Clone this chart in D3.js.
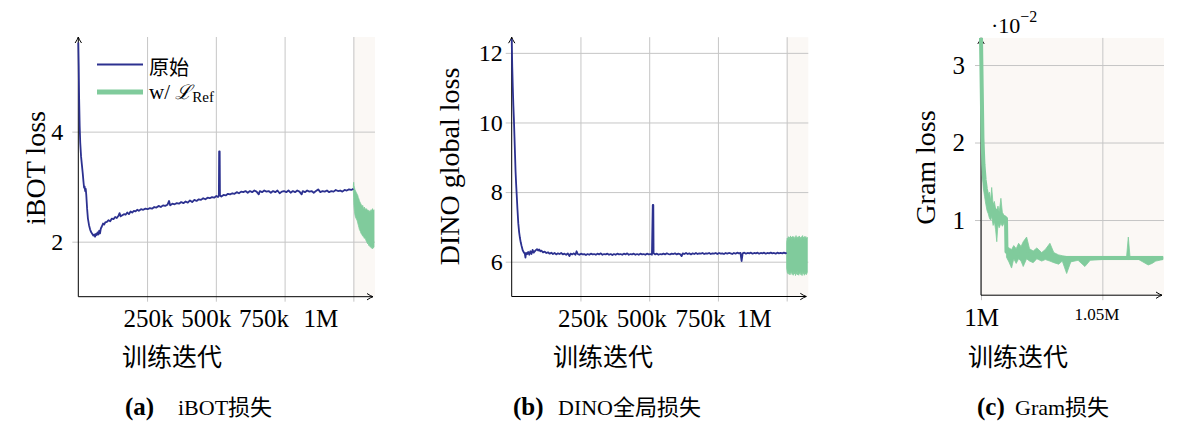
<!DOCTYPE html>
<html><head><meta charset="utf-8">
<script src="https://cdn.jsdelivr.net/npm/d3@7"></script>
<style>body{margin:0;background:#fff} svg{display:block}</style>
</head><body><svg id="c" width="1179" height="425"></svg>
<script>
// ---------- DATA (iterations in thousands) ----------
const ibotOriginal = [[0,5.62],[1.5,5.2],[3,4.6],[5,4.1],[7,3.8],[10,3.55],[13,3.4],[16,3.25],[19,3.08],[21,2.98],[23,3.0],[25,2.92],[27,2.96],[29,2.85],[32,2.6],[35,2.42],[39,2.3],[43,2.22],[47,2.17],[51,2.14],[55,2.11],[58,2.13],[61,2.09],[64,2.14],[67,2.12],[70,2.17],[73,2.13],[76,2.2],[79,2.15],[82,2.24],[86,2.28],[90,2.33],[94,2.31],[98,2.35],[104,2.36],[110,2.39],[116,2.37],[122,2.42],[128,2.41],[134,2.45],[140,2.43],[146,2.47],[150,2.52],[154,2.46],[160,2.48],[166,2.5],[172,2.49],[178,2.53],[184,2.5],[190,2.55],[196,2.53],[202,2.56],[208,2.55],[214,2.58],[220,2.56],[228,2.59],[236,2.58],[244,2.6],[252,2.59],[260,2.61],[268,2.6],[276,2.63],[284,2.62],[292,2.65],[300,2.63],[308,2.66],[316,2.65],[324,2.67],[330,2.74],[334,2.66],[342,2.69],[350,2.68],[358,2.7],[366,2.69],[374,2.72],[382,2.7],[390,2.73],[398,2.71],[406,2.75],[414,2.72],[422,2.76],[430,2.74],[438,2.77],[446,2.76],[454,2.79],[462,2.77],[470,2.8],[478,2.79],[486,2.81],[494,2.8],[502,2.83],[508,2.81],[511,2.84],[512,3.64],[514,3.64],[515,2.84],[520,2.82],[528,2.85],[536,2.84],[544,2.87],[552,2.86],[560,2.88],[568,2.87],[576,2.9],[584,2.88],[592,2.91],[600,2.9],[608,2.92],[616,2.89],[624,2.92],[632,2.9],[640,2.93],[648,2.91],[656,2.86],[660,2.92],[668,2.9],[676,2.93],[684,2.91],[692,2.92],[700,2.89],[708,2.92],[716,2.9],[724,2.93],[732,2.88],[740,2.91],[748,2.92],[756,2.9],[764,2.93],[772,2.89],[780,2.92],[788,2.9],[796,2.93],[804,2.91],[812,2.86],[816,2.92],[824,2.9],[832,2.93],[840,2.91],[848,2.92],[856,2.89],[864,2.92],[872,2.95],[880,2.9],[888,2.92],[896,2.91],[904,2.93],[912,2.9],[920,2.92],[928,2.91],[936,2.94],[944,2.92],[952,2.93],[960,2.91],[968,2.94],[976,2.93],[984,2.95],[992,2.94],[1000,2.96]];

// [iteration, upper, lower]
const ibotRefBand = [[1000,3.02,2.92],[1001,3.08,2.8],[1002,3.02,2.66],[1004,2.98,2.55],[1006,2.94,2.48],[1008,2.92,2.44],[1010,2.9,2.42],[1012,2.88,2.4],[1014,2.86,2.38],[1016,2.84,2.34],[1018,2.8,2.3],[1020,2.78,2.26],[1022,2.74,2.22],[1024,2.72,2.2],[1026,2.7,2.18],[1028,2.68,2.15],[1030,2.66,2.14],[1032,2.64,2.12],[1034,2.66,2.1],[1036,2.62,2.11],[1038,2.6,2.08],[1040,2.63,2.06],[1042,2.59,2.07],[1044,2.6,2.05],[1046,2.57,2.02],[1048,2.6,2.0],[1050,2.56,1.98],[1052,2.58,1.96],[1054,2.55,1.97],[1056,2.57,1.93],[1058,2.53,1.95],[1060,2.56,1.91],[1062,2.54,1.9],[1064,2.58,1.92],[1066,2.55,1.88],[1068,2.59,1.9],[1070,2.6,1.87],[1072,2.56,1.89],[1075,2.58,1.9]];

const dinoOriginal = [[0,12.4],[2,11.6],[4,11.0],[6,10.5],[8,10.1],[10,9.6],[12,9.1],[14,8.6],[16,8.25],[18,7.95],[21,7.5],[24,7.1],[27,6.85],[30,6.68],[33,6.55],[36,6.45],[40,6.33],[44,6.27],[48,6.22],[50,6.12],[52,6.25],[56,6.22],[60,6.28],[64,6.2],[68,6.3],[72,6.22],[76,6.34],[80,6.26],[84,6.3],[88,6.33],[92,6.36],[96,6.32],[100,6.35],[104,6.3],[108,6.32],[114,6.27],[120,6.29],[126,6.25],[132,6.27],[138,6.23],[144,6.26],[150,6.22],[156,6.25],[162,6.21],[168,6.24],[174,6.22],[180,6.25],[186,6.21],[192,6.23],[198,6.2],[204,6.24],[210,6.16],[214,6.23],[220,6.21],[226,6.24],[232,6.2],[236,6.3],[240,6.22],[246,6.2],[252,6.23],[258,6.21],[264,6.22],[270,6.19],[276,6.22],[282,6.2],[288,6.23],[294,6.21],[300,6.22],[306,6.2],[312,6.23],[318,6.21],[324,6.24],[330,6.2],[336,6.22],[342,6.21],[348,6.23],[354,6.2],[360,6.22],[366,6.19],[372,6.22],[378,6.2],[384,6.23],[390,6.21],[396,6.22],[402,6.2],[408,6.23],[414,6.21],[420,6.24],[426,6.2],[432,6.22],[438,6.21],[444,6.23],[450,6.2],[456,6.22],[462,6.2],[468,6.23],[474,6.21],[480,6.22],[486,6.2],[492,6.23],[498,6.21],[504,6.22],[510,6.2],[513,7.63],[515,7.63],[516,6.24],[522,6.21],[528,6.23],[534,6.2],[540,6.22],[546,6.21],[552,6.23],[558,6.21],[564,6.24],[570,6.22],[576,6.21],[582,6.23],[588,6.22],[594,6.24],[600,6.21],[606,6.23],[612,6.22],[618,6.16],[622,6.24],[628,6.22],[634,6.25],[640,6.22],[646,6.24],[652,6.21],[658,6.24],[664,6.22],[670,6.25],[676,6.22],[682,6.24],[688,6.23],[694,6.25],[700,6.22],[706,6.24],[712,6.23],[718,6.25],[724,6.22],[730,6.24],[736,6.23],[742,6.25],[748,6.22],[754,6.25],[760,6.23],[766,6.24],[772,6.22],[778,6.25],[784,6.23],[790,6.25],[796,6.24],[802,6.22],[808,6.25],[814,6.23],[820,6.26],[826,6.24],[832,6.25],[836,6.02],[840,6.24],[846,6.26],[852,6.23],[858,6.25],[864,6.24],[870,6.26],[876,6.23],[882,6.25],[888,6.24],[894,6.26],[900,6.23],[906,6.25],[912,6.24],[918,6.26],[924,6.23],[930,6.25],[936,6.24],[942,6.26],[948,6.24],[954,6.25],[960,6.23],[966,6.26],[972,6.24],[978,6.25],[984,6.24],[990,6.26],[996,6.24],[1000,6.26]];

const dinoRefBand = [[1000,6.56,5.82],[1002,6.68,5.7],[1004,6.64,5.66],[1006,6.72,5.74],[1008,6.63,5.64],[1010,6.7,5.71],[1012,6.67,5.62],[1014,6.74,5.72],[1016,6.64,5.66],[1018,6.71,5.74],[1020,6.66,5.63],[1022,6.73,5.7],[1024,6.65,5.61],[1026,6.72,5.72],[1028,6.63,5.65],[1030,6.7,5.69],[1032,6.67,5.6],[1034,6.75,5.71],[1036,6.65,5.64],[1038,6.71,5.73],[1040,6.64,5.62],[1042,6.72,5.7],[1044,6.66,5.61],[1046,6.74,5.71],[1048,6.65,5.65],[1050,6.7,5.72],[1052,6.63,5.62],[1054,6.72,5.69],[1056,6.67,5.6],[1058,6.75,5.72],[1060,6.65,5.65],[1062,6.71,5.7],[1064,6.64,5.61],[1066,6.73,5.71],[1068,6.66,5.64],[1070,6.72,5.69],[1072,6.65,5.63],[1075,6.7,5.7]];

const gramRef = [[1000,3.35],[1000.3,2.7],[1000.6,2.05],[1001,1.72],[1001.5,1.52],[1002,1.4],[1002.5,1.32],[1003,1.27],[1004,1.21],[1005,1.15],[1006,1.12],[1007,1.09],[1008,1.06],[1009,1.04],[1010.3,1.02],[1010.5,0.59],[1012,0.58],[1014,0.57],[1016,0.56],[1018,0.56],[1020,0.55],[1022,0.54],[1024,0.54],[1026,0.53],[1028,0.53],[1030,0.52],[1032,0.51],[1075,0.51]];

const gramRefBand = [[1000.5,2.3,1.6],[1001,1.75,1.4],[1001.5,1.55,1.3],[1002,1.45,1.2],[1002.5,1.38,1.12],[1003,1.32,1.08],[1003.5,1.36,1.02],[1004,1.25,1.0],[1004.4,1.42,1.05],[1005,1.2,0.93],[1005.5,1.24,0.98],[1006,1.15,0.88],[1006.5,1.12,0.72],[1007,1.18,0.95],[1007.5,1.1,0.9],[1008.2,1.28,0.96],[1008.8,1.1,0.92],[1009.5,1.06,0.96],[1010.3,1.05,0.98],[1010.5,0.66,0.52],[1011.5,0.64,0.46],[1012.6,0.62,0.38],[1013.5,0.67,0.5],[1014.5,0.63,0.44],[1015.5,0.7,0.5],[1016.5,0.66,0.47],[1017.4,0.72,0.4],[1018.8,0.78,0.5],[1020,0.63,0.47],[1021.5,0.6,0.45],[1023,0.64,0.5],[1025,0.58,0.47],[1026.5,0.62,0.49],[1028.4,0.7,0.47],[1030,0.58,0.45],[1032,0.55,0.43],[1033.5,0.54,0.47],[1035.3,0.53,0.31],[1037,0.53,0.46],[1040,0.53,0.48],[1042.8,0.53,0.4],[1045,0.53,0.48],[1050,0.53,0.49],[1055,0.53,0.49],[1060,0.53,0.49],[1060.7,0.78,0.49],[1061.4,0.53,0.49],[1065,0.53,0.49],[1068.9,0.53,0.42],[1070.5,0.53,0.44],[1072,0.53,0.47],[1075,0.53,0.49]];

const mainXTicks = [250, 500, 750, 1000];
const mainXTickLabels = ['250k', '500k', '750k', '1M'];
const gramXTicks = [1000, 1050];
const gramXTickLabels = ['1M', '1.05M'];
const ibotYTicks = [2, 4];
const dinoYTicks = [6, 8, 10, 12];
const gramYTicks = [1, 2, 3];
const legendLabels = ['原始', 'w/ '];
const xAxisTitle = '训练迭代';

// ---------- STYLE ----------
const BLUE = '#2c3190', GREEN = '#80cb9c', SHADE = '#fbf8f5', GRID = '#c6c6c6';
const SERIF = '"Liberation Serif", "DejaVu Serif", serif';
const CJK = '"Noto Sans CJK SC", sans-serif';
const MIX = '"Liberation Serif", "Noto Sans CJK SC", serif';

const svg = d3.select('#c');
svg.append('rect').attr('width', 1179).attr('height', 425).attr('fill', '#fff');
const defs = svg.append('defs');
defs.append('marker').attr('id', 'arr').attr('viewBox', '-8 -5 10 10')
  .attr('refX', 0).attr('refY', 0).attr('markerWidth', 10).attr('markerHeight', 10)
  .attr('markerUnits', 'userSpaceOnUse').attr('orient', 'auto')
  .append('path').attr('d', 'M-6,-3.2 Q-2.5,-0.8 0,0 Q-2.5,0.8 -6,3.2')
  .attr('fill', 'none').attr('stroke', '#000').attr('stroke-width', 1);

function drawPanel(p) {
  const x = d3.scaleLinear().domain(p.xDomain).range(p.xRange);
  const y = d3.scaleLinear().domain(p.yDomain).range(p.yRange);
  const [L, R] = p.xRange, [B, T] = p.yRange;
  const g = svg.append('g');

  g.append('rect').attr('x', x(p.shadeFrom)).attr('y', T)
    .attr('width', R + 1 - x(p.shadeFrom)).attr('height', B - T).attr('fill', SHADE);

  // grid
  const gx = g.append('g').attr('transform', `translate(0,${B})`)
    .call(d3.axisBottom(x).tickValues(p.xTicks).tickSize(-(B - T)).tickFormat(''));
  gx.select('.domain').remove();
  gx.selectAll('line').attr('stroke', GRID).attr('stroke-width', 1);
  const gy = g.append('g').attr('transform', `translate(${L},0)`)
    .call(d3.axisLeft(y).tickValues(p.yTicks).tickSize(-(R + 1 - L)).tickFormat(''));
  gy.select('.domain').remove();
  gy.selectAll('line').attr('stroke', GRID).attr('stroke-width', 1);

  // ticks + labels
  const xa = g.append('g').attr('transform', `translate(0,${B})`)
    .call(d3.axisBottom(x).tickValues(p.xTicks).tickSize(5).tickPadding(8)
      .tickFormat((d, i) => p.xLabels[i]));
  xa.select('.domain').remove();
  xa.selectAll('line').attr('stroke', GRID);
  xa.selectAll('text').attr('dx', (d, i) => p.xLabelDx[i])
    .attr('font-family', SERIF).attr('font-size', (d, i) => p.xLabelSize[i]).attr('fill', '#000');

  const ya = g.append('g').attr('transform', `translate(${L},0)`)
    .call(d3.axisLeft(y).tickValues(p.yTicks).tickSize(6).tickPadding(p.yPad).tickFormat(d3.format('d')));
  ya.select('.domain').remove();
  ya.selectAll('line').attr('stroke', GRID);
  ya.selectAll('text').attr('font-family', SERIF).attr('font-size', p.yLabelSize).attr('fill', '#000');

  // axis lines with arrows
  g.append('line').attr('x1', L).attr('y1', B).attr('x2', R - 1).attr('y2', B)
    .attr('stroke', '#000').attr('stroke-width', 1).attr('marker-end', 'url(#arr)');
  g.append('line').attr('x1', L).attr('y1', B).attr('x2', L).attr('y2', T)
    .attr('stroke', '#000').attr('stroke-width', 1).attr('marker-end', 'url(#arr)');

  // axis titles
  g.append('text').attr('transform', `translate(${p.yTitlePos[0]},${p.yTitlePos[1]}) rotate(-90)`)
    .attr('text-anchor', 'middle').attr('font-family', SERIF).attr('font-size', 28)
    .text(p.yTitle);
  g.append('text').attr('x', p.xTitlePos[0]).attr('y', p.xTitlePos[1])
    .attr('font-family', CJK).attr('font-size', 25).text(xAxisTitle);

  // caption
  const cap = g.append('text').attr('y', 415).attr('font-size', 22).attr('font-family', MIX);
  cap.append('tspan').attr('x', p.capPos[0]).attr('font-weight', 'bold').attr('font-size', 25).text(p.capTag);
  cap.append('tspan').attr('x', p.capPos[1]).text(p.capText);

  // series
  if (p.band) {
    g.append('path').datum(p.band)
      .attr('d', d3.area().x(d => x(d[0])).y0(d => y(d[2])).y1(d => y(d[1])))
      .attr('fill', GREEN).attr('stroke', GREEN).attr('stroke-width', 0.8);
  }
  if (p.line) {
    g.append('path').datum(p.line)
      .attr('d', d3.line().x(d => x(d[0])).y(d => y(d[1])))
      .attr('fill', 'none').attr('stroke', p.lineColor).attr('stroke-width', p.lineWidth)
      .attr('stroke-linejoin', 'round');
  }
  return { g, x, y };
}

// (a) iBOT
const pa = drawPanel({
  xDomain: [0, 1075], xRange: [78.3, 374], yDomain: [1.0, 5.72], yRange: [296.7, 37],
  shadeFrom: 1000, xTicks: mainXTicks, xLabels: mainXTickLabels, xLabelDx: [1, -10, -21, -33],
  xLabelSize: [25, 25, 25, 25], yTicks: ibotYTicks, yPad: 9, yLabelSize: 24,
  yTitle: 'iBOT loss', yTitlePos: [45, 168], xTitlePos: [122, 366],
  capTag: '(a)', capText: 'iBOT损失', capPos: [125, 178],
  band: ibotRefBand, line: ibotOriginal, lineColor: BLUE, lineWidth: 1.8
});

// legend
const lg = pa.g.append('g');
lg.append('line').attr('x1', 97).attr('x2', 143).attr('y1', 64.5).attr('y2', 64.5)
  .attr('stroke', BLUE).attr('stroke-width', 2);
lg.append('text').attr('x', 149).attr('y', 75).attr('font-family', CJK).attr('font-size', 20).text(legendLabels[0]);
lg.append('line').attr('x1', 97).attr('x2', 143).attr('y1', 92).attr('y2', 92)
  .attr('stroke', GREEN).attr('stroke-width', 5);
const lt = lg.append('text').attr('x', 149).attr('y', 99).attr('font-family', SERIF).attr('font-size', 21);
lt.append('tspan').text(legendLabels[1]);
lt.append('tspan').attr('font-family', '"DejaVu Serif", serif').attr('font-style', 'italic').attr('font-size', 20).text('ℒ');
lt.append('tspan').attr('font-size', 15).attr('dy', 3).text('Ref');

// (b) DINO
drawPanel({
  xDomain: [0, 1075], xRange: [511.7, 807.3], yDomain: [5.0, 12.45], yRange: [296.5, 37.2],
  shadeFrom: 1000, xTicks: mainXTicks, xLabels: mainXTickLabels, xLabelDx: [2, -8, -18, -33],
  xLabelSize: [25, 25, 25, 25], yTicks: dinoYTicks, yPad: 3, yLabelSize: 24,
  yTitle: 'DINO global loss', yTitlePos: [459, 166.5], xTitlePos: [553, 366],
  capTag: '(b)', capText: 'DINO全局损失', capPos: [513, 558],
  band: dinoRefBand, line: dinoOriginal, lineColor: BLUE, lineWidth: 1.8
});

// (c) Gram
const pc = drawPanel({
  xDomain: [1000, 1075], xRange: [981, 1163], yDomain: [0.03, 3.35], yRange: [295.2, 37.9],
  shadeFrom: 1000, xTicks: gramXTicks, xLabels: gramXTickLabels, xLabelDx: [0, -6],
  xLabelSize: [25, 17], yTicks: gramYTicks, yPad: 10, yLabelSize: 25,
  yTitle: 'Gram loss', yTitlePos: [935, 167.5], xTitlePos: [968, 366],
  capTag: '(c)', capText: 'Gram损失', capPos: [977, 1015],
  band: gramRefBand, line: gramRef, lineColor: GREEN, lineWidth: 4
});

// scale multiplier label
const sm = pc.g.append('text').attr('x', 991).attr('y', 33).attr('font-family', SERIF).attr('font-size', 22);
sm.append('tspan').text('·10');
sm.append('tspan').attr('dy', -11).attr('font-size', 16).text('−2');
</script></body></html>
